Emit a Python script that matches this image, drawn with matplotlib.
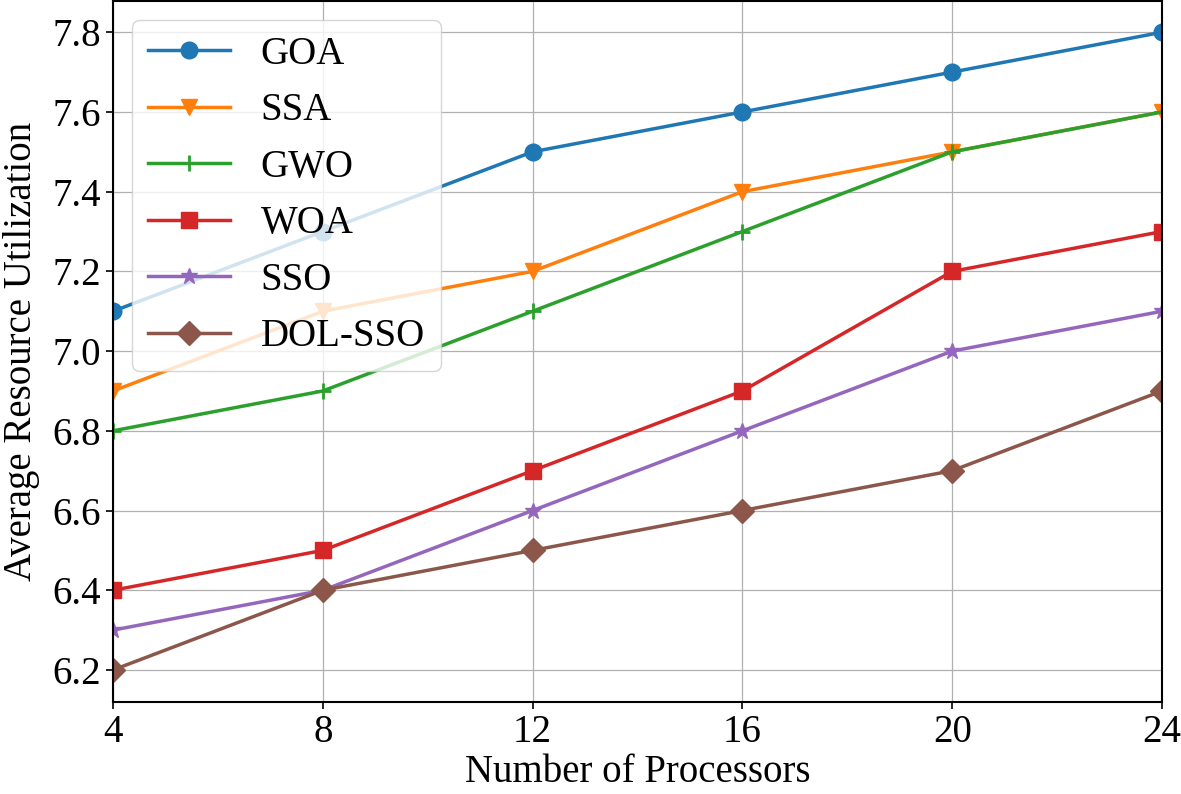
import matplotlib
matplotlib.use('Agg')
import matplotlib.pyplot as plt

processors = [4, 8, 12, 16, 20, 24]
goa = [7.1, 7.3, 7.5, 7.6, 7.7, 7.8]
ssa = [6.9, 7.1, 7.2, 7.4, 7.5, 7.6]
gwo = [6.8, 6.9, 7.1, 7.3, 7.5, 7.6]
woa = [6.4, 6.5, 6.7, 6.9, 7.2, 7.3]
sso = [6.3, 6.4, 6.6, 6.8, 7.0, 7.1]
dol_sso = [6.2, 6.4, 6.5, 6.6, 6.7, 6.9]

plt.rcParams['font.family'] = ['Liberation Serif', 'DejaVu Serif']
plt.rcParams['mathtext.fontset'] = 'stix'

fig = plt.figure(figsize=(11.81, 7.94), dpi=100)
ax = fig.add_axes([0.0957, 0.1159, 0.8882, 0.8829])

series = [('GOA', goa, 'o'), ('SSA', ssa, 'v'), ('GWO', gwo, '+'),
          ('WOA', woa, 's'), ('SSO', sso, '*'), ('DOL-SSO', dol_sso, 'D')]
for name, vals, m in series:
    ax.plot(processors, vals, marker=m, markersize=12, linewidth=2.5,
            markeredgewidth=2 if m == '+' else 1.0, label=name)

ax.set_xlim(4, 24)
ax.set_ylim(6.1197, 7.8785)
ax.set_xticks(processors)
ax.set_yticks([6.2, 6.4, 6.6, 6.8, 7.0, 7.2, 7.4, 7.6, 7.8])
ax.tick_params(labelsize=28, length=5, width=1.2)
for s in ax.spines.values():
    s.set_linewidth(1.5)
ax.grid(True, color='#b0b0b0', linewidth=0.9)
ax.set_xlabel('Number of Processors', fontsize=28, labelpad=2)
ax.set_ylabel('Average Resource Utilization', fontsize=28, labelpad=9)
ax.legend(loc='upper left', fontsize=28, handlelength=2.1, framealpha=0.8)

fig.savefig('out.png', dpi=100)
